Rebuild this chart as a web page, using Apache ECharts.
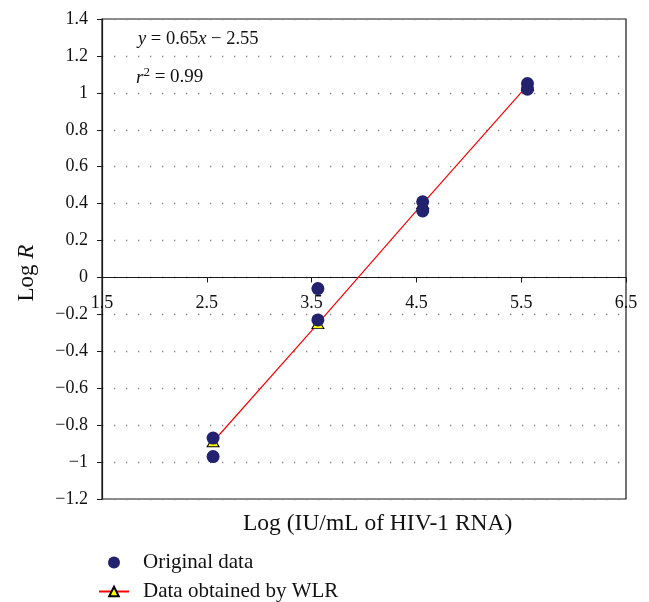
<!DOCTYPE html>
<html>
<head>
<meta charset="utf-8">
<script src="https://cdn.jsdelivr.net/npm/echarts@6/dist/echarts.min.js"></script>
<style>
html,body{margin:0;padding:0;background:#fff;}
#chart{width:649px;height:602px;}
</style>
</head>
<body>
<div id="chart"></div>
<script>
// ---- data ----
const origX = [2.56, 2.56, 3.56, 3.56, 4.56, 4.56, 5.56, 5.56];
const origY = [-0.87, -0.97, -0.06, -0.23, 0.41, 0.36, 1.05, 1.02];
const wlrX = [2.56, 3.56, 4.56, 5.56];
const wlrY = [-0.89, -0.25, 0.40, 1.04];
const xTickLabels = [1.5, 2.5, 3.5, 4.5, 5.5, 6.5];
const xTickMarks = [2.5, 3.5, 4.5, 5.5, 6.5];
const seriesNames = ['Original data', 'Data obtained by WLR'];
const equationText = '{i|y} = 0.65{i|x} \u2212 2.55';
const r2Text = '{i|r}{sup|2} = 0.99';
const xAxisTitle = 'Log (IU/mL of HIV-1 RNA)';
const yAxisTitle = 'Log {i|R}';
const yMin = -1.2, yMax = 1.4, yStep = 0.2;

const FONT = "'Liberation Serif', 'DejaVu Serif', serif";
const W = 649, H = 602;
const G = {left: 102, right: 23, top: 19, bottom: 103};
// move the x axis so that it crosses the y axis at 0 (as in the reference)
const plotH = H - G.top - G.bottom;
const zeroFromBottom = (0 - yMin) / (yMax - yMin) * plotH;

const chart = echarts.init(document.getElementById('chart'), null, {renderer: 'canvas'});

const origData = origX.map((x, i) => [x, origY[i]]);
const wlrData = wlrX.map((x, i) => [x, wlrY[i]]);

const txtRich = {
  i: {fontStyle: 'italic', fontSize: 19, fontFamily: FONT, fill: '#111'},
  sup: {fontSize: 13, fontFamily: FONT, fill: '#111', verticalAlign: 'top', lineHeight: 23}
};

const option = {
  animation: false,
  backgroundColor: '#fff',
  grid: Object.assign({}, G, {show: true, borderColor: '#1a1a1a', borderWidth: 1.2, backgroundColor: 'transparent'}),
  xAxis: {
    type: 'value', min: 1.5, max: 6.5, position: 'bottom', offset: -zeroFromBottom,
    axisLine: {onZero: false, lineStyle: {color: '#1a1a1a', width: 1.2}},
    axisTick: {show: true, inside: false, length: 5, customValues: xTickMarks, lineStyle: {color: '#1a1a1a'}},
    axisLabel: {customValues: xTickLabels, margin: 17, color: '#111', fontFamily: FONT, fontSize: 18,
      formatter: v => v.toFixed(1), showMinLabel: true, showMaxLabel: true},
    splitLine: {show: false}
  },
  yAxis: {
    type: 'value', min: yMin, max: yMax, interval: yStep,
    axisLine: {show: true, onZero: false, lineStyle: {color: '#1a1a1a', width: 1.2}},
    axisTick: {show: true, length: 5, lineStyle: {color: '#1a1a1a'}},
    axisLabel: {margin: 14, color: '#111', fontFamily: FONT, fontSize: 18,
      formatter: v => String(Math.round(v * 10) / 10).replace('-', '\u2212')},
    splitLine: {show: true, lineStyle: {color: '#888', width: 1.3, type: [1.3, 10.7]}}
  },
  legend: {
    orient: 'vertical', left: 98, top: 552, width: 400, height: 70, padding: 0,
    itemWidth: 30, itemHeight: 12, itemGap: 8,
    textStyle: {fontFamily: FONT, fontSize: 21, color: '#111', padding: [0, 0, 0, 9]},
    data: [seriesNames[0], seriesNames[1]]
  },
  series: [
    {
      name: seriesNames[1], type: 'line', data: wlrData,
      symbol: 'triangle', symbolSize: [12, 10], showSymbol: true,
      lineStyle: {color: '#ff0000', width: 1.2},
      itemStyle: {color: '#ffff00', borderColor: '#000', borderWidth: 1},
      z: 2
    },
    {
      name: seriesNames[0], type: 'scatter', data: origData,
      symbol: 'circle', symbolSize: 13,
      itemStyle: {color: '#22226e', opacity: 1},
      z: 3
    }
  ],
  graphic: [
    {type: 'text', left: 138, top: 30, style: {text: equationText, font: '18.5px ' + FONT, fill: '#111',
      rich: Object.assign({}, txtRich, {i: Object.assign({}, txtRich.i, {fontSize: 18.5})})}},
    {type: 'text', left: 136, top: 66, style: {text: r2Text, font: '19px ' + FONT, fill: '#111', rich: txtRich}},
    {type: 'text', left: 243, top: 512, style: {text: xAxisTitle, font: '23.5px ' + FONT, fill: '#111'}},
    {type: 'text', x: 27, y: 273, rotation: Math.PI / 2,
      style: {text: yAxisTitle, font: '23px ' + FONT, fill: '#111', align: 'center', verticalAlign: 'middle',
        rich: {i: {fontStyle: 'italic', fontSize: 23, fontFamily: FONT, fill: '#111'}}}}
  ]
};
chart.setOption(option);
</script>
</body>
</html>
